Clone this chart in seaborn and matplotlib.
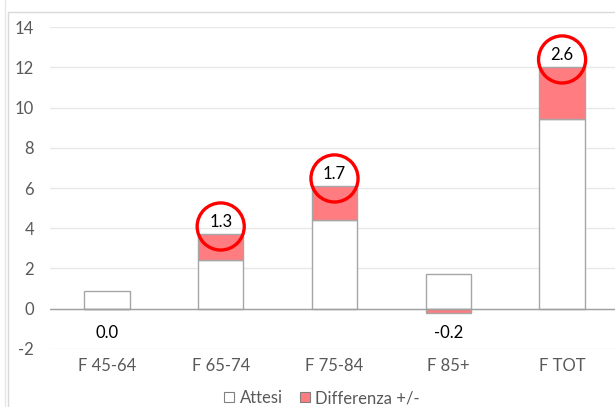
import matplotlib
matplotlib.use("Agg")
import matplotlib.pyplot as plt
import seaborn as sns
import pandas as pd
import numpy as np
from matplotlib.patches import Patch, Rectangle
from matplotlib.lines import Line2D

categories = ["F 45-64", "F 65-74", "F 75-84", "F 85+", "F TOT"]
attesi = [0.88, 2.43, 4.42, 1.72, 9.44]
differenza = [0.0, 1.3, 1.7, -0.2, 2.6]
y_ticks = [-2, 0, 2, 4, 6, 8, 10, 12, 14]

sns.set_theme(style="white")
plt.rcParams['font.family'] = ['Lato', 'DejaVu Sans']

df = pd.DataFrame({"cat": categories, "attesi": attesi, "diff": differenza})
df["bottom"] = np.where(df["diff"] > 0, df["attesi"], 0.0)

W, H = 615, 407
fig = plt.figure(figsize=(W / 100, H / 100), dpi=100)
ax = fig.add_axes([50 / W, 1 - 348.9 / H, 569 / W, 321.6 / H])

edge = "#a6a6a6"
red = "#ff7c80"
sns.barplot(data=df, x="cat", y="attesi", color="white", edgecolor=edge,
            linewidth=1, width=0.4, ax=ax, saturation=1, zorder=3)
sns.barplot(data=df, x="cat", y="diff", color=red, edgecolor=edge,
            linewidth=1, width=0.4, ax=ax, saturation=1, zorder=3,
            bottom=df["bottom"].values)

ax.set_xlim(-0.5, 4.5)
ax.set_ylim(-2, 14)
ax.set_yticks(y_ticks)
ax.set_yticklabels([str(v) for v in y_ticks])
ax.grid(axis="y", color="#e8e8e8", linewidth=1, zorder=0)
ax.axhline(0, color="#a0a0a0", linewidth=1, zorder=4)
for s in ax.spines.values():
    s.set_visible(False)
ax.set_xlabel("")
ax.set_ylabel("")
ax.tick_params(axis="both", length=0, labelsize=12, labelcolor="#595959")
ax.tick_params(axis="y", pad=11.5)
ax.tick_params(axis="x", pad=6.5)

for i, (a, d) in enumerate(zip(attesi, differenza)):
    if d > 0:
        top = a + d
        ax.text(i, top + 0.58, f"{d:.1f}", ha="center", va="center",
                fontsize=12, color="black", zorder=6)
        ax.scatter([i], [top + 0.36], s=1150, facecolors="none",
                   edgecolors="#ff0000", linewidths=2.4, zorder=7)
    else:
        ax.text(i, -1.2, f"{d:.1f}", ha="center", va="center",
                fontsize=12, color="black", zorder=6)

handles = [Patch(facecolor="white", edgecolor="#808080", linewidth=0.8, label="Attesi"),
           Patch(facecolor=red, edgecolor="#808080", linewidth=0.8, label="Differenza +/-")]
fig.legend(handles=handles, loc="center", bbox_to_anchor=(322 / W, 1 - 398 / H),
           ncol=2, frameon=False, fontsize=12, handlelength=0.6,
           handleheight=0.6, handletextpad=0.35, columnspacing=1.0,
           labelcolor="#595959")

fig.patches.append(Rectangle((8.3 / W, -0.1), 1.2, 1 - 11.7 / H + 0.1,
                             transform=fig.transFigure, fill=False,
                             edgecolor="#d9d9d9", linewidth=1))
fig.lines.append(Line2D([5 / W, 5 / W], [0, 1], transform=fig.transFigure,
                        color="#e6e6e6", linewidth=1))

fig.savefig("out.png", dpi=100)
